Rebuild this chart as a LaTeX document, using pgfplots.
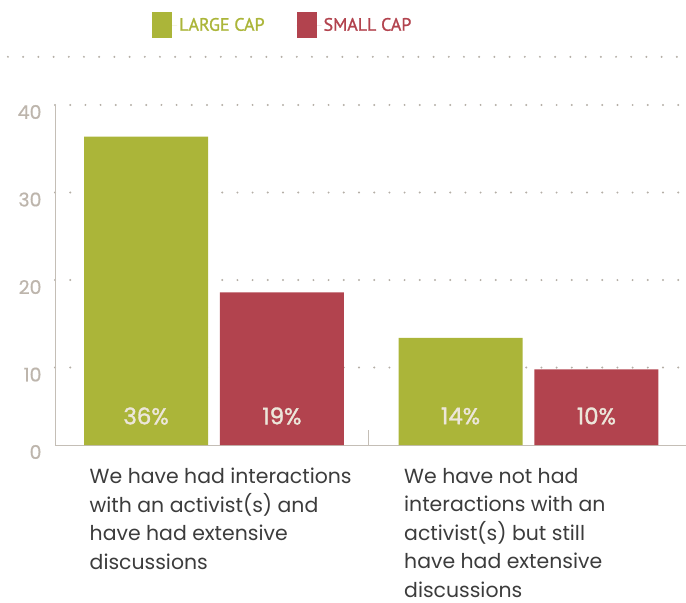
\documentclass[border=0pt]{standalone}
\usepackage{fontspec}
\usepackage{pgfplots}
\pgfplotsset{compat=1.18}
\setmainfont{Poppins}
\newfontfamily\numfont[FakeBold=1.5]{Poppins}
\newfontfamily\tickfont[FakeBold=0.6]{Poppins}
\newfontfamily\legfont[FakeBold=1.2]{PT Sans}
\definecolor{lgreen}{RGB}{171,181,57}
\definecolor{sred}{RGB}{178,67,78}
\definecolor{axgray}{RGB}{196,190,182}
\definecolor{dotgray}{RGB}{180,174,166}
\definecolor{tickgray}{RGB}{189,181,172}
\definecolor{txtgray}{RGB}{60,60,60}
\definecolor{barlbl}{RGB}{236,230,218}
\begin{document}
\begin{tikzpicture}
\useasboundingbox (-55bp,-158bp) rectangle (631bp,445bp);
\begin{axis}[
  scale only axis,
  width=631bp, height=340bp,
  xmin=-0.5056, xmax=1.5008,
  ymin=1.15, ymax=40,
  ybar, bar width=0.394,
  axis x line=bottom, axis y line=left,
  axis line style={draw=axgray, line width=0.8bp, -},
  major tick length=0pt,
  xtick={0,1},
  xticklabels={{We have had interactions\\with an activist(s) and\\have had extensive\\discussions},
               {We have not had\\interactions with an\\activist(s) but still\\have had extensive\\discussions}},
  xticklabel style={anchor=north west, xshift=-124.5bp, yshift=-23bp, align=left, inner sep=0pt,
    font=\fontsize{20.5}{28.6}\selectfont, text=txtgray},
  ytick={10,20,30,40},
  extra y ticks={1.15}, extra y tick labels={0},
  extra y tick style={grid=none},
  ymajorgrids,
  grid style={draw=dotgray, line width=2.2bp, line cap=round, dash pattern=on 0pt off 15.2bp},
  /pgf/number format/assume math mode=true,
  yticklabel style={font=\tickfont\fontsize{19}{19}\selectfont, text=tickgray, yshift=-7bp, xshift=-10bp},
  clip=false,
  legend style={at={(0.361,1.235)}, anchor=center, draw=none, fill=none,
    legend columns=2, font=\legfont\fontsize{18}{18}\selectfont,
    /tikz/every even column/.append style={column sep=30bp}},
  legend image code/.code={\fill[#1] (0bp,-13bp) rectangle (20bp,13bp);\path (0bp,0bp) -- (25bp,0bp);},
]
\addplot+[bar shift=-0.216, draw=none, fill=lgreen] coordinates {(0,36.4) (1,13.4)};
\addplot+[bar shift=0.216, draw=none, fill=sred] coordinates {(0,18.6) (1,9.8)};
\legend{\textcolor{lgreen}{LARGE CAP}, \textcolor{sred}{SMALL CAP}}
\draw[dotgray, line width=2.2bp, line cap=round, dash pattern=on 0pt off 15.2bp]
  (rel axis cs:-0.0745,1.1416) -- (rel axis cs:1,1.1416);
\draw[axgray, line width=0.8bp] (axis cs:0.4897,1.15) -- (axis cs:0.4897,2.86);
\node[text=barlbl, font=\numfont\fontsize{23}{23}\selectfont] at (axis cs:-0.216,4.46) {36\%};
\node[text=barlbl, font=\numfont\fontsize{23}{23}\selectfont] at (axis cs:0.216,4.46) {19\%};
\node[text=barlbl, font=\numfont\fontsize{23}{23}\selectfont] at (axis cs:0.784,4.46) {14\%};
\node[text=barlbl, font=\numfont\fontsize{23}{23}\selectfont] at (axis cs:1.216,4.46) {10\%};
\end{axis}
\end{tikzpicture}
\end{document}
